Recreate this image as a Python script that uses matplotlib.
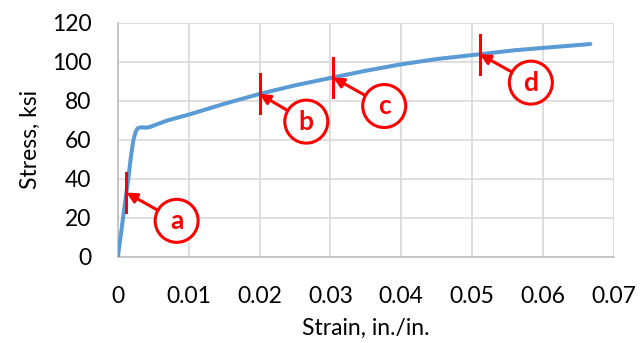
import matplotlib.pyplot as plt

plt.rcParams['font.family'] = ['Lato', 'DejaVu Sans']

# stress-strain curve
strain = [0, 0.0005, 0.0010, 0.0015, 0.0019, 0.0022, 0.0025, 0.0028, 0.0033,
          0.0040, 0.0045, 0.0055, 0.0070, 0.0100, 0.0150, 0.0200, 0.0250,
          0.0303, 0.0350, 0.0400, 0.0450, 0.0512, 0.0560, 0.0620, 0.0667]
stress = [0, 13.5, 27.5, 41, 53, 60, 64, 66, 66.5,
          66.3, 66.6, 68, 70, 73, 78.5, 83.6, 88,
          92, 95.5, 98.8, 101.5, 104, 106, 107.8, 109.2]

# marked points
mark_labels = ['a', 'b', 'c', 'd']
mark_strain = [0.0012, 0.0200, 0.0304, 0.0511]
mark_stress = [33, 83.6, 92, 104]
# where the circled letters sit
label_strain = [0.0083, 0.0266, 0.0376, 0.0583]
label_stress = [18.5, 69.4, 77.4, 89.4]

red = '#FF0000'

fig = plt.figure(figsize=(6.44, 3.43), dpi=100)
ax = fig.add_axes([0.183, 0.251, 0.770, 0.682])

ax.plot(strain, stress, color='#5B9BD5', lw=2.9, solid_capstyle='round', zorder=3)

for lab, sx, sy, lx, ly in zip(mark_labels, mark_strain, mark_stress, label_strain, label_stress):
    ax.plot([sx, sx], [sy - 10, sy + 10], color=red, lw=2.2, zorder=4)
    ax.annotate(lab, xy=(sx, sy), xytext=(lx, ly), ha='center', va='center',
                fontsize=19, fontweight='bold', color=red, zorder=5,
                bbox=dict(boxstyle='circle,pad=0.36', fc='white', ec=red, lw=2.2),
                arrowprops=dict(arrowstyle='-|>', color=red, lw=2.2, mutation_scale=15,
                                shrinkA=0, shrinkB=0))

ax.set_xlim(0, 0.07)
ax.set_ylim(0, 120)
ax.set_xticks([0, 0.01, 0.02, 0.03, 0.04, 0.05, 0.06, 0.07])
ax.set_xticklabels(['0', '0.01', '0.02', '0.03', '0.04', '0.05', '0.06', '0.07'])
ax.set_yticks(range(0, 121, 20))
ax.grid(True, color='#D9D9D9', lw=1.2)
ax.set_axisbelow(True)
for s in ['top', 'right']:
    ax.spines[s].set_visible(False)
for s in ['left', 'bottom']:
    ax.spines[s].set_color('#BFBFBF')
    ax.spines[s].set_linewidth(1.2)
ax.tick_params(length=0, labelsize=16.5, colors='black')
ax.tick_params(axis='x', pad=21)
ax.tick_params(axis='y', pad=19)
ax.set_xlabel('Strain, in./in.', fontsize=16.5, labelpad=8)
ax.set_ylabel('Stress, ksi', fontsize=16.5, labelpad=8)

fig.savefig('out.png', dpi=100)
